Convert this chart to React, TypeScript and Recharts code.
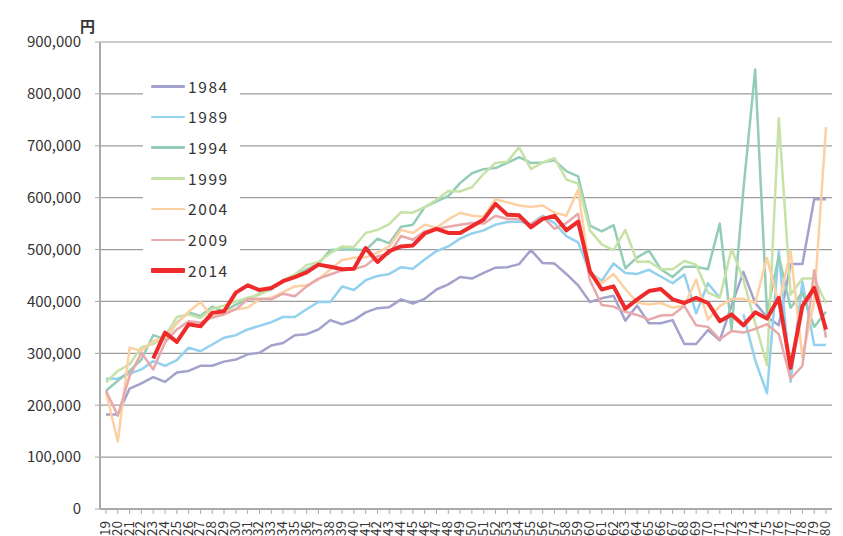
import React from 'react';
import { LineChart, Line, XAxis, YAxis, CartesianGrid, Legend } from 'recharts';

// ages 19..80 (category axis)
const ages = [
  '19', '20', '21', '22', '23', '24', '25', '26', '27', '28', '29', '30', '31', '32', '33', '34',
  '35', '36', '37', '38', '39', '40', '41', '42', '43', '44', '45', '46', '47', '48', '49', '50',
  '51', '52', '53', '54', '55', '56', '57', '58', '59', '60', '61', '62', '63', '64', '65', '66',
  '67', '68', '69', '70', '71', '72', '73', '74', '75', '76', '77', '78', '79', '80',
];

const yTicks = [0, 100000, 200000, 300000, 400000, 500000, 600000, 700000, 800000, 900000];

const v1984 = [
  182000, 182000, 232000, 242000, 254000, 245000, 263000, 266000, 276000, 276000, 284000, 288000,
  298000, 301000, 315000, 320000, 335000, 337000, 346000, 364000, 356000, 364000, 379000, 387000,
  389000, 404000, 396000, 405000, 423000, 433000, 447000, 444000, 455000, 465000, 466000, 472000,
  499000, 474000, 473000, 453000, 431000, 399000, 406000, 411000, 363000, 392000, 358000, 358000,
  364000, 318000, 318000, 345000, 325000, 392000, 457000, 397000, 370000, 354000, 472000, 472000,
  597000, 597000,
];

const v1989 = [
  251000, 251000, 261000, 269000, 285000, 276000, 287000, 311000, 304000, 317000, 330000, 335000,
  346000, 353000, 360000, 370000, 370000, 385000, 399000, 399000, 429000, 422000, 441000, 449000,
  453000, 466000, 463000, 481000, 497000, 506000, 521000, 531000, 537000, 548000, 553000, 554000,
  549000, 565000, 551000, 526000, 514000, 455000, 440000, 473000, 455000, 453000, 461000, 448000,
  435000, 452000, 377000, 435000, 407000, null, 375000, 287000, 223000, 497000, 245000, 438000,
  316000, 316000,
];

const v1994 = [
  228000, 247000, 266000, 288000, 335000, 327000, 359000, 379000, 372000, 390000, 381000, 394000,
  404000, 415000, 423000, 441000, 450000, 462000, 473000, 499000, 500000, 500000, 499000, 521000,
  512000, 544000, 548000, 582000, 593000, 603000, 628000, 647000, 655000, 657000, 667000, 678000,
  667000, 668000, 672000, 651000, 641000, 546000, 535000, 547000, 464000, 485000, 498000, 462000,
  447000, 467000, 467000, 462000, 550000, 345000, 615000, 847000, 378000, 487000, 388000, 417000,
  351000, 380000,
];

const v1999 = [
  244000, 266000, 279000, 312000, 318000, 332000, 370000, 375000, 368000, 386000, 392000, 400000,
  407000, 413000, 425000, 440000, 452000, 470000, 476000, 493000, 506000, 505000, 532000, 538000,
  549000, 572000, 571000, 582000, 596000, 613000, 612000, 620000, 646000, 667000, 669000, 697000,
  655000, 668000, 676000, 635000, 627000, 537000, 510000, 499000, 538000, 476000, 477000, 462000,
  462000, 478000, 471000, 417000, 407000, 501000, 442000, 359000, 277000, 753000, 413000, 444000,
  444000, 397000,
];

const v2004 = [
  225000, 130000, 311000, 305000, 324000, 330000, 358000, 380000, 399000, 369000, 380000, 385000,
  388000, 404000, 407000, 418000, 429000, 431000, 442000, 462000, 480000, 484000, 485000, 494000,
  506000, 538000, 532000, 548000, 542000, 558000, 571000, 565000, 563000, 597000, 591000, 585000,
  582000, 585000, 571000, 565000, 615000, 455000, 435000, 453000, 424000, 398000, 394000, 397000,
  388000, 392000, 442000, 365000, 391000, 405000, 405000, 397000, 484000, 395000, 497000, 292000,
  400000, 736000,
];

const v2009 = [
  228000, 180000, 256000, 301000, 269000, 321000, 346000, 362000, 359000, 369000, 375000, 385000,
  404000, 405000, 404000, 415000, 410000, 429000, 444000, 452000, 460000, 462000, 469000, 487000,
  492000, 526000, 519000, 535000, 540000, 544000, 548000, 551000, 550000, 565000, 559000, 559000,
  548000, 563000, 540000, 551000, 569000, 441000, 393000, 390000, 380000, 374000, 365000, 373000,
  374000, 391000, 354000, 351000, 327000, 343000, 340000, 347000, 356000, 337000, 251000, 276000,
  460000, 330000,
];

const v2014 = [
  null, null, null, null, 290000, 340000, 322000, 356000, 352000, 378000, 381000, 417000,
  431000, 422000, 426000, 439000, 447000, 456000, 471000, 467000, 462000, 463000, 503000, 476000,
  497000, 506000, 508000, 531000, 540000, 532000, 532000, 545000, 558000, 588000, 567000, 566000,
  543000, 559000, 565000, 537000, 554000, 458000, 423000, 429000, 386000, 404000, 420000, 424000,
  404000, 397000, 407000, 397000, 362000, 375000, 354000, 379000, 367000, 407000, 272000, 391000,
  426000, 346000,
];

const series = [
  { key: '1984', values: v1984, color: '#a2a2cd', width: 2.5 },
  { key: '1989', values: v1989, color: '#93d1ee', width: 2.5 },
  { key: '1994', values: v1994, color: '#93cdb6', width: 2.5 },
  { key: '1999', values: v1999, color: '#c6e2a6', width: 2.5 },
  { key: '2004', values: v2004, color: '#fcd0a3', width: 2.5 },
  { key: '2009', values: v2009, color: '#e8a9aa', width: 2.5 },
  { key: '2014', values: v2014, color: '#ee2a2a', width: 4 },
];

const data = ages.map((age, i) => {
  const row: Record<string, string | number | null> = { age };
  series.forEach((s) => {
    row[s.key] = s.values[i];
  });
  return row;
});

const font = '"Noto Sans CJK JP", "Noto Sans", sans-serif';

const AgeTick = (props: any) => {
  const { x, y, payload } = props;
  const tx = x - 2;
  return (
    <text
      x={tx}
      y={y}
      transform={`rotate(-90 ${tx} ${y})`}
      textAnchor="end"
      dominantBaseline="central"
      fontSize={13.5}
      fontFamily={font}
      fill="#333"
    >
      {payload.value}
    </text>
  );
};

const LegendBox = () => (
  <div style={{ background: '#fff', padding: '3px 0 0 8px' }}>
    {series.map((s) => (
      <div key={s.key} style={{ display: 'flex', alignItems: 'center', height: 30.7 }}>
        <div style={{ width: 34, height: s.width === 4 ? 5 : s.width, background: s.color, borderRadius: 1 }} />
        <span
          style={{
            marginLeft: 3,
            fontFamily: font,
            fontSize: 15.5,
            letterSpacing: 1.6,
            color: '#333',
            lineHeight: 1,
          }}
        >
          {s.key}
        </span>
      </div>
    ))}
  </div>
);

export default function App() {
  return (
    <div
      style={{
        position: 'absolute',
        left: 0,
        top: 0,
        width: 843,
        height: 536,
        overflow: 'hidden',
        background: '#fff',
      }}
    >
      <div
        style={{
          position: 'absolute',
          left: 80,
          top: 15,
          fontFamily: font,
          fontWeight: 700,
          fontSize: 15,
          color: '#333',
          zIndex: 2,
        }}
      >
        円
      </div>
      <LineChart
        width={843}
        height={560}
        data={data}
        margin={{ top: 42, right: 11, bottom: 0, left: 0 }}
      >
        <CartesianGrid vertical={false} stroke="#9c9c9c" strokeWidth={1.2} />
        <XAxis
          dataKey="age"
          interval={0}
          height={51}
          padding={{ left: 6, right: 6 }}
          tick={<AgeTick />}
          tickSize={5}
          tickMargin={7}
          axisLine={{ stroke: '#aaa', strokeWidth: 2 }}
          tickLine={{ stroke: '#aaa' }}
        />
        <YAxis
          width={100}
          domain={[0, 900000]}
          ticks={yTicks}
          interval={0}
          tickSize={5}
          tickMargin={14}
          tickFormatter={(v: number) => v.toLocaleString('en-US')}
          tick={{ fontSize: 15, fill: '#333', fontFamily: font }}
          axisLine={{ stroke: '#aaa', strokeWidth: 2 }}
          tickLine={{ stroke: '#aaa' }}
        />
        <YAxis
          yAxisId="r"
          orientation="right"
          width={0}
          domain={[0, 900000]}
          tick={false}
          tickLine={false}
          axisLine={{ stroke: '#aaa', strokeWidth: 2 }}
        />
        <Legend
          layout="vertical"
          align="center"
          verticalAlign="middle"
          content={<LegendBox />}
          wrapperStyle={{ left: 143, top: 68, width: 97 }}
        />
        {series.map((s) => (
          <Line
            key={s.key}
            dataKey={s.key}
            type="linear"
            stroke={s.color}
            strokeWidth={s.width}
            strokeLinejoin="round"
            dot={false}
            activeDot={false}
            isAnimationActive={false}
          />
        ))}
      </LineChart>
    </div>
  );
}
